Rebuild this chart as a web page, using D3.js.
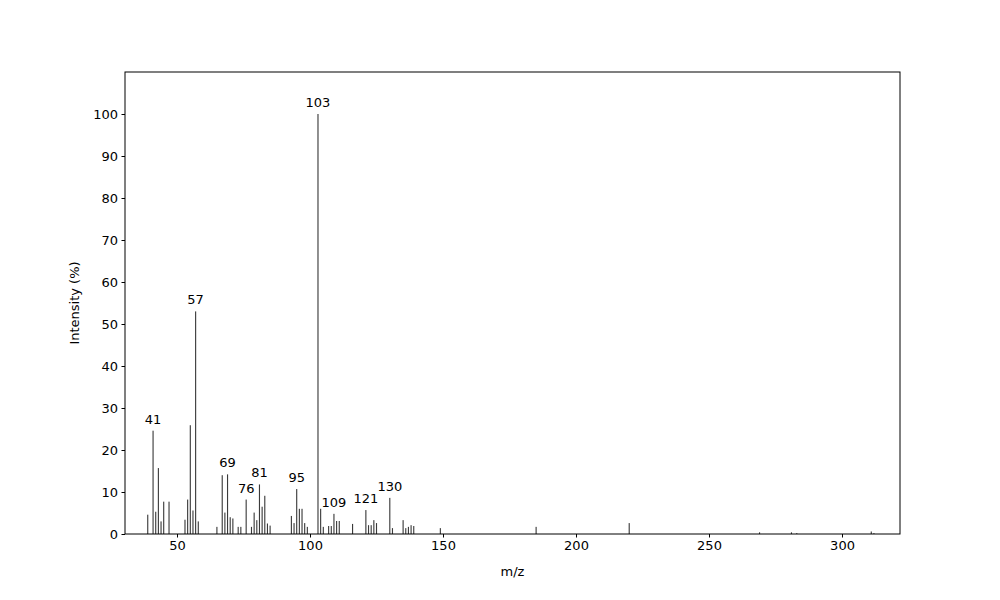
<!DOCTYPE html>
<html><head><meta charset="utf-8">
<script src="https://cdn.jsdelivr.net/npm/d3@7"></script>
<style>body{margin:0;background:#fff}text{font-family:"DejaVu Sans",sans-serif}</style>
</head><body><svg id="c" width="1000" height="600"></svg>
<script>
const mz = [39,41,42,43,44,45,47,53,54,55,56,57,58,65,67,68,69,70,71,73,74,76,78,79,80,81,82,83,84,85,
93,94,95,96,97,98,99,103,104,105,107,108,109,110,111,116,121,122,123,124,125,130,131,135,136,137,138,139,149,
185,220,269,281,283,311,312];
const intensity = [4.6,24.6,5.3,15.7,3,7.7,7.7,3.4,8.2,25.9,5.6,53,3,1.7,14,5.1,14.2,4,3.7,1.7,1.7,8.2,1.7,5.1,3.3,11.8,6.5,9.1,2.5,2,
4.3,2.6,10.7,6,6,2.6,1.7,100,6,1.7,1.9,1.9,4.8,3.1,3.1,2.4,5.7,2.1,2.1,3.3,2.6,8.6,1.4,3.3,1.4,1.7,2.1,1.9,1.4,
1.7,2.6,0.4,0.4,0.2,0.6,0.2];
const labelled = [41,57,69,76,81,95,103,109,121,130];
const yTicks = [0,10,20,30,40,50,60,70,80,90,100];
const xTicks = [50,100,150,200,250,300];

const svg = d3.select("#c");
const L=125,R=900,T=72,B=534;
const x = d3.scaleLinear().domain([30.45,321.8]).range([L,R]);
const y = d3.scaleLinear().domain([0,110]).range([B,T]);
const bw = 0.42*(x(1)-x(0));

svg.append("g").selectAll("rect").data(mz).join("rect")
  .attr("x",(d)=>x(d)-bw/2).attr("width",bw)
  .attr("y",(d,i)=>y(intensity[i])).attr("height",(d,i)=>B-y(intensity[i]))
  .attr("fill","#3a3a3a");

svg.append("g").selectAll("text").data(mz.filter(m=>labelled.includes(m))).join("text")
  .attr("x",d=>x(d)).attr("y",d=>y(intensity[mz.indexOf(d)])-7)
  .attr("text-anchor","middle").attr("font-size",13).text(d=>d);

const xa = svg.append("g").attr("transform",`translate(0,${B})`)
  .call(d3.axisBottom(x).tickValues(xTicks).tickSize(3.5).tickPadding(3.5));
const ya = svg.append("g").attr("transform",`translate(${L},0)`)
  .call(d3.axisLeft(y).tickValues(yTicks).tickSize(3.5).tickPadding(3.5));
[xa,ya].forEach(a=>{a.select(".domain").remove();a.selectAll("text").attr("font-size",13).attr("fill","#000").attr("font-family","DejaVu Sans");a.selectAll("line").attr("stroke","#000");});
svg.append("rect").attr("x",L).attr("y",T).attr("width",R-L).attr("height",B-T)
  .attr("fill","none").attr("stroke","#000").attr("stroke-width",1);
svg.append("text").attr("x",(L+R)/2).attr("y",576).attr("text-anchor","middle").attr("font-size",13).text("m/z");
svg.append("text").attr("transform",`translate(79,${(T+B)/2}) rotate(-90)`).attr("text-anchor","middle").attr("font-size",13).text("Intensity (%)");
</script></body></html>
